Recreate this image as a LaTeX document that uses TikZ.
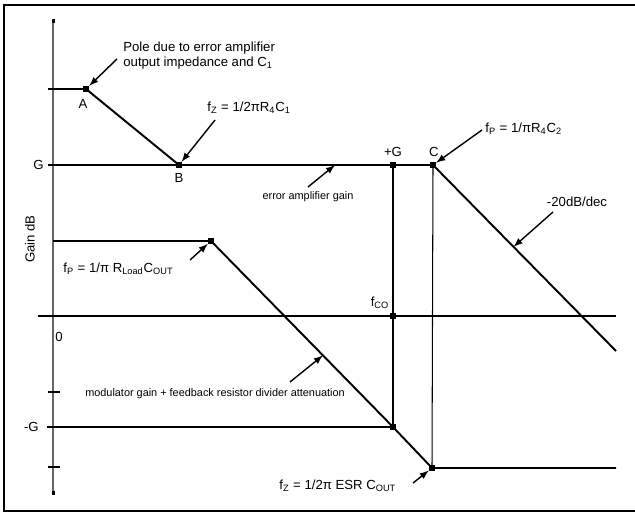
\documentclass[tikz,border=0pt]{standalone}
\usepackage{fontspec}
\setmainfont{Liberation Sans}
\usetikzlibrary{arrows,calc}

\begin{document}
\begin{tikzpicture}[>=latex,x=0.02cm,y=-0.02cm,
  dot/.style={rectangle,fill=black,inner sep=0pt,minimum size=3.2pt},
  lbl/.style={font=\fontsize{7.5}{8.5}\selectfont,inner sep=0pt},
  tiny/.style={font=\fontsize{6.2}{7}\selectfont,inner sep=0pt},
  curve/.style={line width=1.1pt},
  grid/.style={line width=0.6pt},
  note/.style={->,line width=0.8pt}]

\useasboundingbox (0,0) rectangle (635,513);

\def\G{165}
\def\Z{316}
\def\nG{427}
\def\E{468}

\draw[line width=1.7pt] (635,5)--(4,5)--(4,511)--(635,511);

% axis
\draw[line width=0.6pt,color=black!60] (53,21)--(53,493);
\fill (51.5,19) rectangle (54.5,23);
\fill (51.5,491) rectangle (54.5,495);
\draw[grid] (48,392)--(60,392);
\draw[grid] (48,467)--(60,467);
\node[lbl,rotate=90] at (30,239) {Gain dB};

% points
\node[dot] (A) at (86,89) {};
\node[dot] (B) at (179,\G) {};
\node[dot] (C) at (433,\G) {};
\node[dot] (pG) at (393,\G) {};
\node[dot] (P) at (211,241) {};
\node[dot] (fco) at (393,\Z) {};
\node[dot] (mG) at (393,\nG) {};
\node[dot] (esr) at (432,\E) {};
\coordinate (a0) at (48,89);
\coordinate (g0) at (48,\G);
\coordinate (p0) at (53,241);
\coordinate (z0) at (38,\Z);
\coordinate (z1) at (616,\Z);
\coordinate (m0) at (47,\nG);
\coordinate (e1) at (616,\E);
\coordinate (c1) at (616,351);

% levels
\draw[grid] (a0)--(A.center);
\draw[grid] (p0)--(P.center);
\draw[grid] (z0)--(z1);
\draw[grid] (m0)--(mG.center);
\draw[grid] (C.center)--(esr.center);
\draw[line width=0.9pt] (pG.center)--(mG.center);

% curves
\draw[curve] (A.center)--(B.center);
\draw[curve] (g0)--(C.center);
\draw[curve] (C.center)--(c1);
\draw[curve] (P.center)--(mG.center)--(esr.center)--(e1);

% labels
\node[lbl] at (83,104) {A};
\node[lbl] at (179,178) {B};
\node[lbl] at (393,152) {+G};
\node[lbl] at (434,152) {C};
\node[lbl,anchor=east] at (44,\G) {G};
\node[lbl,anchor=east] at (39,\nG) {-G};
\node[lbl,anchor=west] at (55,337) {0};
\node[lbl] at (380,303) {f\textsubscript{CO}};

\node[lbl,align=left,anchor=west] (pole) at (123,55.5)
  {Pole due to error amplifier\\output impedance and C\textsubscript{1}};
\node[lbl,anchor=west] (fz1) at (207,108) {f\textsubscript{Z} = 1/2πR\textsubscript{4}C\textsubscript{1}};
\node[lbl,anchor=west] (fp2) at (485,129) {f\textsubscript{P} = 1/πR\textsubscript{4}C\textsubscript{2}};
\node[lbl] (slope) at (577,202) {-20dB/dec};
\node[lbl,anchor=west] (fp1) at (63,269) {f\textsubscript{P} = 1/π R\textsubscript{Load}C\textsubscript{OUT}};
\node[tiny] (eag) at (308,197) {error amplifier gain};
\node[tiny] (mod) at (215,394) {modulator gain + feedback resistor divider attenuation};
\node[lbl,anchor=west] (fz2) at (279,486) {f\textsubscript{Z} = 1/2π ESR C\textsubscript{OUT}};

% pointers
\coordinate (t1) at (117,59);
\coordinate (t2) at (215,120);
\coordinate (t3) at (482,130);
\coordinate (t4) at (553,212);
\coordinate (t5) at (190,260);
\coordinate (t6) at (308,187);
\coordinate (t7) at (290,382);
\coordinate (t8) at (413,483);
\coordinate (h4) at ($(C)!0.44!(c1)$);
\coordinate (h6) at (335,\G);
\coordinate (h7) at ($(P)!0.615!(mG)$);

\draw[note] (t1)--(A);
\draw[note] (t2)--(B);
\draw[note] (t3)--(C);
\draw[note] (t4)--(h4);
\draw[note] (t5)--(P);
\draw[note] (t6)--(h6);
\draw[note] (t7)--(h7);
\draw[note] (t8)--(esr);

\end{tikzpicture}
\end{document}
